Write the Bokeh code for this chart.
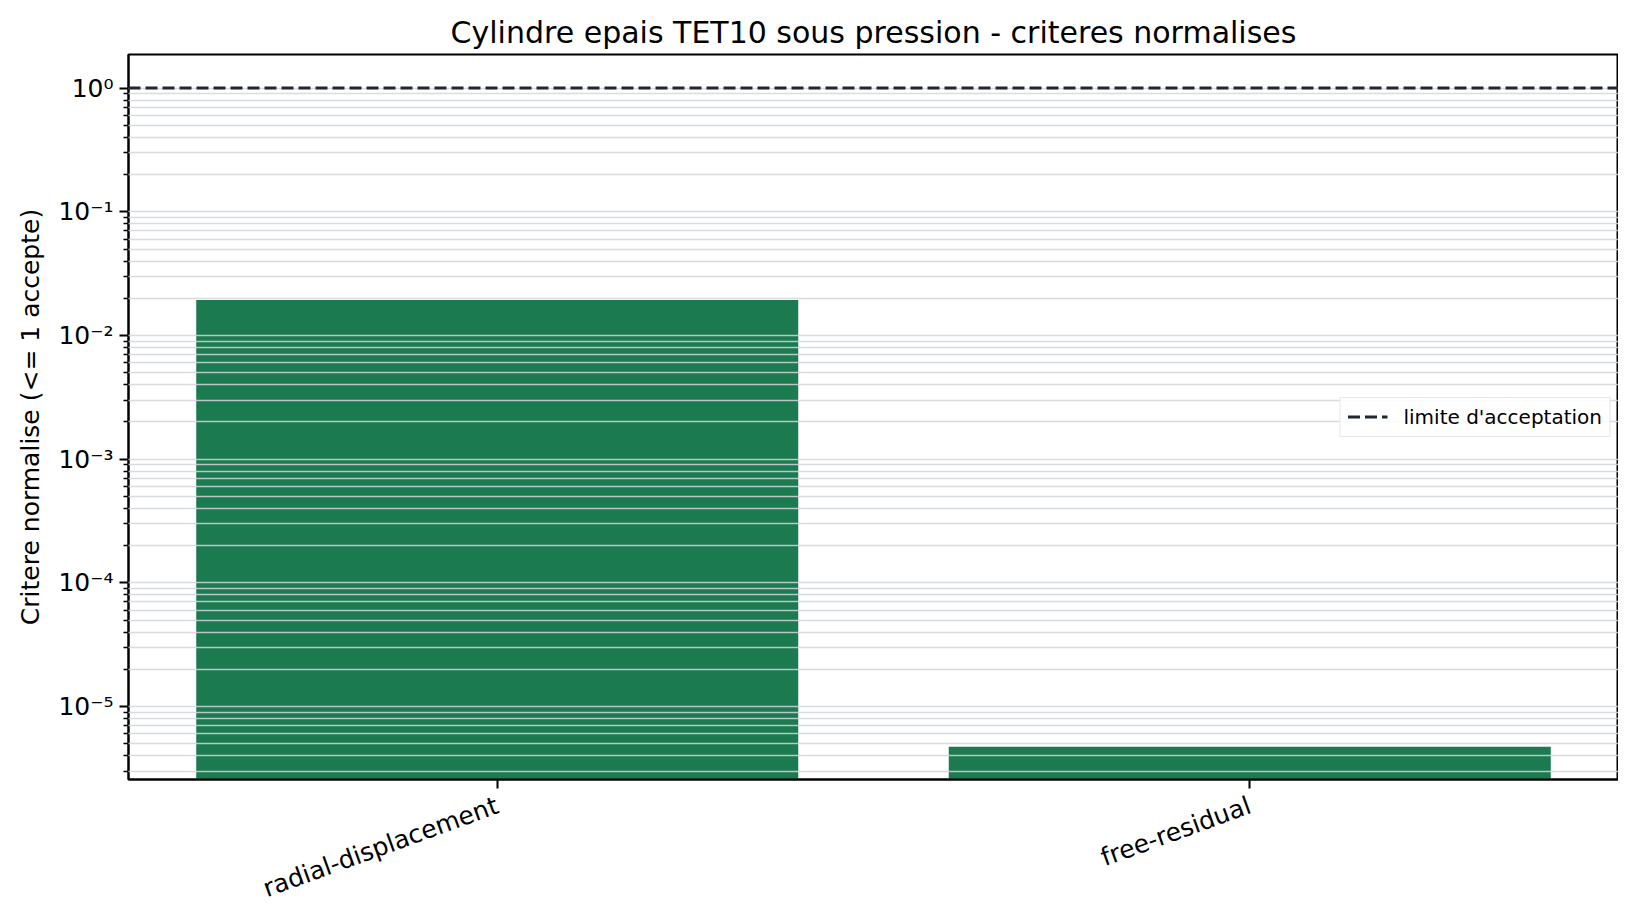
from bokeh.plotting import figure
from bokeh.models import (FactorRange, Range1d, FixedTicker, CustomJSTickFormatter,
                          Legend, LegendItem)
from bokeh.embed import file_html
from bokeh.resources import INLINE
import math

criteria = ["radial-displacement", "free-residual"]
values = [0.0194, 4.73e-6]
limit = 1.0

y_low, y_high = 2.57e-6, 1.87
x_pad = 0.01

major_ticks = [1e-5, 1e-4, 1e-3, 1e-2, 1e-1, 1.0]
minor_ticks = [k * 10.0 ** e for e in range(-6, 0) for k in range(2, 10)]
minor_ticks = [m for m in minor_ticks if y_low <= m <= y_high]

font = "DejaVu Sans"

p = figure(frame_width=1490, frame_height=725,
           x_range=FactorRange(*criteria, range_padding=-x_pad),
           y_range=Range1d(y_low, y_high),
           y_axis_type="log",
           output_backend="svg", toolbar_location=None,
           min_border_left=128, min_border_right=0,
           min_border_top=54, min_border_bottom=10,
           title="Cylindre epais TET10 sous pression - criteres normalises")

p.title.align = "center"
p.title.text_font = font
p.title.text_font_size = "30px"
p.title.text_font_style = "normal"
p.title.text_color = "black"

p.vbar(x=criteria, top=values, bottom=y_low, width=0.8,
       fill_color="#1b7a50", line_color=None)

# seuil d'acceptation, sur toute la largeur du cadre
limit_line = p.line(x=[(criteria[0], -(0.5 - x_pad)), (criteria[-1], 0.5 - x_pad)],
                    y=[limit, limit],
                    line_color="#1f2731", line_width=3, line_dash="12 5")
limit_line.level = "overlay"

legend = Legend(items=[LegendItem(label="limite d'acceptation", renderers=[limit_line])],
                location="center_right", margin=8, padding=7,
                label_text_font=font, label_text_font_size="20px",
                label_text_color="black", label_height=19, glyph_height=19,
                label_standoff=16, glyph_width=40,
                border_line_color="#d0d0d0", border_line_width=1.5,
                background_fill_alpha=0.85, level="overlay")
p.add_layout(legend)

ticker = FixedTicker(ticks=major_ticks, minor_ticks=minor_ticks)
p.yaxis.ticker = ticker
p.ygrid.ticker = ticker
p.yaxis.formatter = CustomJSTickFormatter(code="""
const sup = {"-": "\u207b", "0": "\u2070", "1": "\u00b9", "2": "\u00b2", "3": "\u00b3",
             "4": "\u2074", "5": "\u2075", "6": "\u2076", "7": "\u2077", "8": "\u2078", "9": "\u2079"};
const e = Math.round(Math.log10(tick));
return "10" + String(e).split("").map(c => sup[c]).join("");
""")

p.yaxis.axis_label = "Critere normalise (<= 1 accepte)"
for ax in (p.xaxis, p.yaxis):
    ax.axis_label_text_font = font
    ax.axis_label_text_font_size = "25px"
    ax.axis_label_text_font_style = "normal"
    ax.axis_label_text_color = "black"
    ax.major_label_text_font = font
    ax.major_label_text_font_size = "25px"
    ax.major_label_text_color = "black"
    ax.axis_line_color = "black"
    ax.axis_line_width = 2
    ax.major_tick_line_color = "black"
    ax.major_tick_line_width = 2
    ax.major_tick_out = 9
    ax.major_tick_in = 0
    ax.minor_tick_line_color = "black"
    ax.minor_tick_line_width = 1.5
    ax.minor_tick_out = 5
    ax.minor_tick_in = 0
p.yaxis.axis_label_standoff = 10
p.yaxis.major_label_standoff = 6
p.xaxis.major_label_orientation = math.radians(20)
p.xaxis.major_label_standoff = 16
p.xaxis.major_label_text_line_height = 1.0

p.xgrid.grid_line_color = None
p.ygrid.grid_line_color = "#d1d6db"
p.ygrid.grid_line_alpha = 0.85
p.ygrid.grid_line_width = 1.6
p.ygrid.minor_grid_line_color = "#d1d6db"
p.ygrid.minor_grid_line_alpha = 0.85
p.ygrid.minor_grid_line_width = 1.6
p.ygrid.level = "annotation"

p.outline_line_color = "black"
p.outline_line_width = 2
p.outline_line_alpha = 1.0
p.background_fill_color = "white"
p.border_fill_color = "white"

open("out.html", "w").write(file_html(p, INLINE))
